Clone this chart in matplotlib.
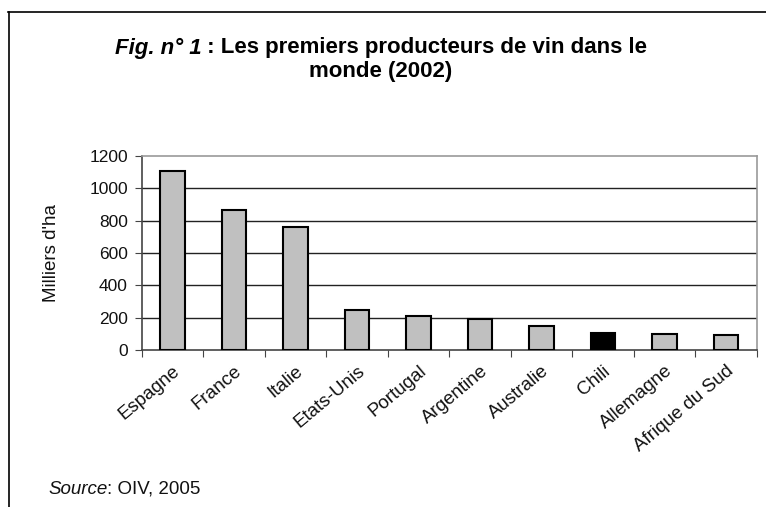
import matplotlib
matplotlib.use("Agg")
import matplotlib.pyplot as plt
from matplotlib.lines import Line2D

categories = ["Espagne", "France", "Italie", "Etats-Unis", "Portugal",
              "Argentine", "Australie", "Chili", "Allemagne", "Afrique du Sud"]
values = [1110, 868, 760, 245, 210, 193, 150, 108, 100, 95]
highlight = "Chili"
yticks = [0, 200, 400, 600, 800, 1000, 1200]

plt.rcParams['font.family'] = ['Liberation Sans', 'DejaVu Sans']

fig = plt.figure(figsize=(7.66, 5.07), dpi=100)
W, H = 766, 507
ax = fig.add_axes([141.7 / W, 1 - 350 / H, 615 / W, 194 / H])

x = list(range(len(categories)))
colors = ["black" if c == highlight else "#c0c0c0" for c in categories]
ax.bar(x, values, width=0.4, color=colors, edgecolor="black", linewidth=1.5, zorder=3)

ax.set_xlim(-0.5, len(categories) - 0.5)
ax.set_ylim(0, 1200)
ax.set_yticks(yticks)
ax.set_yticklabels([str(t) for t in yticks], fontsize=12.5, color="#111111")
for t in yticks[1:-1]:
    ax.axhline(t, color="#222222", linewidth=1.0, zorder=1)

ax.set_xticks([i - 0.5 for i in range(len(categories) + 1)], minor=False)
ax.set_xticklabels([])
ax.set_xticks(x, minor=True)
ax.set_xticklabels(categories, minor=True, rotation=40, ha="right",
                   rotation_mode="anchor", fontsize=13.5, color="#111111")
ax.tick_params(axis="x", which="minor", length=0, pad=9)
ax.tick_params(axis="x", which="major", length=5, direction="out", color="#444444")
ax.tick_params(axis="y", length=5, direction="out", color="#444444", pad=5)

for s in ["left", "bottom"]:
    ax.spines[s].set_color("#444444")
    ax.spines[s].set_linewidth(1.2)
for s in ["top", "right"]:
    ax.spines[s].set_color("#999999")
    ax.spines[s].set_linewidth(1.2)

ax.set_ylabel("Milliers d'ha", fontsize=13.5, color="#111111")
ax.yaxis.set_label_coords(-(141.7 - 60) / 615, 0.5)

# Title: first line with italic part, centred
title_fs = 16
line1_y = 1 - 48 / H
txt_a = fig.text(0, line1_y, "Fig. n° 1", fontsize=title_fs, fontweight="bold",
                 fontstyle="italic", ha="left", va="center")
txt_b = fig.text(0, line1_y, " : Les premiers producteurs de vin dans le",
                 fontsize=title_fs, fontweight="bold", ha="left", va="center")
fig.canvas.draw()
wa = txt_a.get_window_extent().width
wb = txt_b.get_window_extent().width
x0 = 381 - (wa + wb) / 2
txt_a.set_x(x0 / W)
txt_b.set_x((x0 + wa) / W)
fig.text(381 / W, 1 - 71 / H, "monde (2002)", fontsize=title_fs, fontweight="bold",
         ha="center", va="center")

# Source
sa = fig.text(48 / W, 1 - 489 / H, "Source", fontsize=13.5, fontstyle="italic",
              ha="left", va="center", color="#111111")
fig.canvas.draw()
bb2 = sa.get_window_extent()
fig.text(bb2.x1 / W, 1 - 489 / H, ": OIV, 2005", fontsize=13.5, ha="left",
         va="center", color="#111111")

# Outer frame lines
fig.add_artist(Line2D([8 / W, 1.0], [1 - 11.5 / H, 1 - 11.5 / H], color="black",
                      linewidth=1.2, transform=fig.transFigure))
fig.add_artist(Line2D([8.5 / W, 8.5 / W], [1 - 11.5 / H, 0], color="black",
                      linewidth=1.2, transform=fig.transFigure))

fig.savefig("out.png", dpi=100)
